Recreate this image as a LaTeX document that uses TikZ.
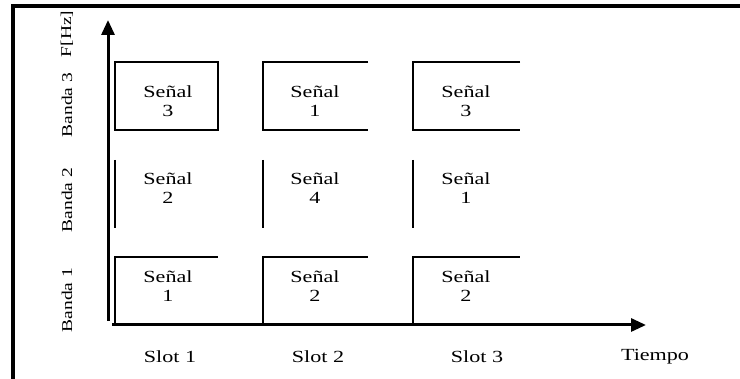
\documentclass[tikz,border=0pt]{standalone}
\usepackage{fontspec}
\setmainfont[FakeStretch=1.3]{Liberation Serif}
\usetikzlibrary{arrows.meta, positioning}
\tikzset{
	senal/.style ={align=center, font=\fontsize{17}{19}\selectfont, inner sep=0pt},
	banda/.style ={rotate=90, font=\fontsize{15}{16}\selectfont, inner sep=0pt},
	slotlbl/.style={font=\fontsize{17}{18}\selectfont, inner sep=0pt},
	celda/.style ={line width=1.8pt},
	eje/.style   ={line width=3pt, -{Triangle[length=15pt, width=13pt]}},
}

\begin{document}
\begin{tikzpicture}[x=1pt, y=-1pt]
	\useasboundingbox (0,0) rectangle (740,379);
	\draw[line width=3.5pt] (13,379) -- (13,6) -- (740,6);
	% ejes
	\coordinate (ybase) at (108,321);
	\coordinate (ytop) at (108,20);
	\coordinate (xbase) at (112,325);
	\coordinate (xend) at (646,325);
	\draw[eje] (ybase) -- (ytop);
	\draw[eje] (xbase) -- (xend);
	% banda 3
	\draw[celda] (115,62) rectangle (218,130);
	\draw[celda] (368,62) -- (263,62) -- (263,130) -- (368,130);
	\draw[celda] (520,62) -- (413,62) -- (413,130) -- (520,130);
	% banda 2
	\draw[celda] (115,160) -- (115,228);
	\draw[celda] (263,160) -- (263,228);
	\draw[celda] (413,160) -- (413,228);
	% banda 1
	\draw[celda] (115,325) -- (115,257) -- (218,257);
	\draw[celda] (263,325) -- (263,257) -- (368,257);
	\draw[celda] (413,325) -- (413,257) -- (520,257);
	% senales
	\node[senal] (s31) at (168,101) {Señal\\3};
	\node[senal] (s32) at (315,101) {Señal\\1};
	\node[senal] (s33) at (466,101) {Señal\\3};
	\node[senal] (s21) at (168,188) {Señal\\2};
	\node[senal] (s22) at (315,188) {Señal\\4};
	\node[senal] (s23) at (466,188) {Señal\\1};
	\node[senal] (s11) at (168,286) {Señal\\1};
	\node[senal] (s12) at (315,286) {Señal\\2};
	\node[senal] (s13) at (466,286) {Señal\\2};
	% etiquetas
	\node[banda] (b1) at (67,300) {Banda 1};
	\node[banda] (b2) at (67,200) {Banda 2};
	\node[banda] (b3) at (67,105) {Banda 3};
	\node[banda] (fhz) at (67,34) {F[Hz]};
	\node[slotlbl] (t1) at (170,357) {Slot 1};
	\node[slotlbl] (t2) at (318,357) {Slot 2};
	\node[slotlbl] (t3) at (477,357) {Slot 3};
	\node[slotlbl] (tiempo) at (655,357) {Tiempo};
\end{tikzpicture}
\end{document}
